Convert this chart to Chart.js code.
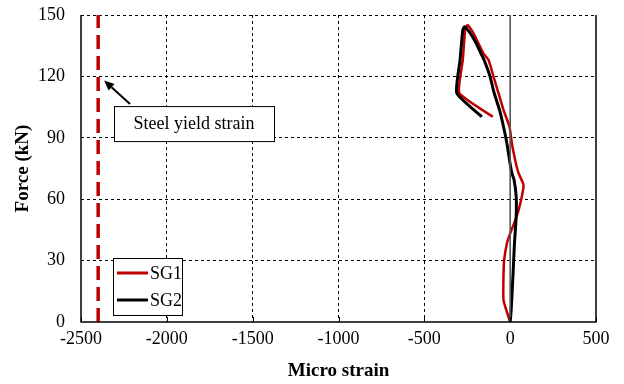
<!DOCTYPE html>
<html>
<head>
<meta charset="utf-8">
<script src="https://cdn.jsdelivr.net/npm/chart.js@4/dist/chart.umd.min.js"></script>
<style>
  html, body { margin: 0; padding: 0; background: #fff; }
  #wrap { width: 624px; height: 384px; }
</style>
</head>
<body>
<div id="wrap"><canvas id="c" width="624" height="384"></canvas></div>
<script>
// Strain gauge readings: micro strain (x) against applied force in kN (y)
const sg1Strain = [0, -23, -39, -39, -35, -19, 0, 23, 49, 68, 78, 49, 29, 10, -4, -39, -68, -97, -126, -156, -185, -214, -249, -262, -276, -296, -101];
const sg1Force  = [0, 5.9, 10.8, 22.2, 30.3, 38.4, 43.3, 48.2, 54.7, 61.3, 67, 72.7, 79.2, 87.3, 95.5, 103.6, 111.8, 119.9, 128, 131.3, 136.2, 141.1, 145.1, 142.7, 128, 111.8, 100.3];

const sg2Strain = [0, 6, 16, 25, 35, 35, 23, 10, -4, -19, -39, -62, -93, -117, -152, -171, -198, -233, -266, -276, -292, -311, -165];
const sg2Force  = [0, 5.9, 22.2, 38.4, 51.5, 61.3, 69.4, 72.7, 79.2, 87.3, 95.5, 103.6, 111.8, 119.9, 128, 131.3, 136.2, 141.1, 144.3, 142.7, 128, 111.8, 100.3];

const yieldStrain = -2400;
const forceRange = [0, 150];
const strainTicks = [-2500, -2000, -1500, -1000, -500, 0, 500];
const forceTicks = [0, 30, 60, 90, 120, 150];
const seriesNames = ['SG1', 'SG2'];
const annotationText = 'Steel yield strain';

const FONT = "'Liberation Serif', 'Times New Roman', serif";
const RED = '#C00000';

function pts(xs, ys) { return xs.map((x, i) => ({ x: x, y: ys[i] })); }

// Frame, inner ticks on the strain axis, legend box and the yield annotation
const decorations = {
  id: 'decorations',
  afterDatasetsDraw(chart) {
    const { ctx, chartArea: a, scales: { x, y } } = chart;
    ctx.save();
    // solid frame on left, bottom and right
    ctx.strokeStyle = '#000';
    ctx.lineWidth = 1.5;
    ctx.beginPath();
    ctx.moveTo(a.left, a.top);
    ctx.lineTo(a.left, a.bottom);
    ctx.lineTo(a.right, a.bottom);
    ctx.lineTo(a.right, a.top);
    ctx.stroke();
    // inner tick marks on the strain axis
    ctx.lineWidth = 1;
    strainTicks.forEach(v => {
      const px = Math.round(x.getPixelForValue(v)) + 0.5;
      ctx.beginPath();
      ctx.moveTo(px, a.bottom);
      ctx.lineTo(px, a.bottom - 5);
      ctx.stroke();
    });

    // legend
    const lx = a.left + 32, ly = a.top + 243, lw = 69, lh = 57;
    ctx.fillStyle = '#fff';
    ctx.fillRect(lx, ly, lw, lh);
    ctx.strokeStyle = '#000';
    ctx.lineWidth = 1;
    ctx.strokeRect(lx + 0.5, ly + 0.5, lw, lh);
    ctx.font = '18px ' + FONT;
    ctx.textBaseline = 'middle';
    ctx.textAlign = 'left';
    seriesNames.forEach((name, i) => {
      const ds = chart.data.datasets.find(d => d.label === name);
      const yy = ly + 15 + i * 27;
      ctx.strokeStyle = ds.borderColor;
      ctx.lineWidth = 3;
      ctx.beginPath();
      ctx.moveTo(lx + 4, yy);
      ctx.lineTo(lx + 35, yy);
      ctx.stroke();
      ctx.fillStyle = '#000';
      ctx.fillText(name, lx + 37, yy + 1);
    });

    // annotation pointing at the yield line
    const tipX = x.getPixelForValue(yieldStrain) + 6;
    const tipY = y.getPixelForValue(118);
    const bx = a.left + 33, by = y.getPixelForValue(105.5), bw = 160, bh = 35;
    const sx = bx + 16, sy = by - 2;
    ctx.strokeStyle = '#000';
    ctx.fillStyle = '#000';
    ctx.lineWidth = 2;
    const ang = Math.atan2(tipY - sy, tipX - sx);
    const hl = 10, hw = 4.5;
    const baseX = tipX - hl * Math.cos(ang), baseY = tipY - hl * Math.sin(ang);
    ctx.beginPath();
    ctx.moveTo(sx, sy);
    ctx.lineTo(baseX, baseY);
    ctx.stroke();
    ctx.beginPath();
    ctx.moveTo(tipX, tipY);
    ctx.lineTo(baseX + hw * Math.sin(ang), baseY - hw * Math.cos(ang));
    ctx.lineTo(baseX - hw * Math.sin(ang), baseY + hw * Math.cos(ang));
    ctx.closePath();
    ctx.fill();
    ctx.fillStyle = '#fff';
    ctx.fillRect(bx, by, bw, bh);
    ctx.lineWidth = 1;
    ctx.strokeRect(bx + 0.5, by + 0.5, bw, bh);
    ctx.fillStyle = '#000';
    ctx.textAlign = 'center';
    ctx.fillText(annotationText, bx + bw / 2, by + bh / 2 + 1);
    ctx.restore();
  }
};

new Chart(document.getElementById('c'), {
  type: 'scatter',
  data: {
    datasets: [
      {
        label: 'zero',
        data: [{ x: 0, y: forceRange[0] }, { x: 0, y: forceRange[1] }],
        showLine: true, borderColor: '#555555', borderWidth: 1.6,
        pointRadius: 0
      },
      {
        label: 'yield',
        data: [{ x: yieldStrain, y: forceRange[0] }, { x: yieldStrain, y: forceRange[1] }],
        showLine: true, borderColor: RED, borderWidth: 3.5,
        borderDash: [14, 7], pointRadius: 0
      },
      {
        label: seriesNames[1],
        data: pts(sg2Strain, sg2Force),
        showLine: true, borderColor: '#000', borderWidth: 3,
        pointRadius: 0, tension: 0.15
      },
      {
        label: seriesNames[0],
        data: pts(sg1Strain, sg1Force),
        showLine: true, borderColor: RED, borderWidth: 2.5,
        pointRadius: 0, tension: 0.15
      }
    ]
  },
  options: {
    responsive: false,
    animation: false,
    events: [],
    layout: { padding: { left: 0, right: 28, top: 15, bottom: 0 } },
    plugins: { legend: { display: false }, tooltip: { enabled: false } },
    scales: {
      x: {
        type: 'linear',
        min: strainTicks[0], max: strainTicks[strainTicks.length - 1],
        afterBuildTicks: s => { s.ticks = strainTicks.map(v => ({ value: v })); },
        afterFit: s => { s.height = 62; s.paddingLeft = 0; s.paddingRight = 0; },
        ticks: { color: '#000', font: { family: FONT, size: 18 }, padding: 6, callback: v => String(v) },
        grid: {
          drawTicks: false,
          color: c => (c.tick && (c.tick.value === 0 || c.tick.value === strainTicks[0] || c.tick.value === strainTicks[strainTicks.length - 1])) ? 'rgba(0,0,0,0)' : '#000',
          lineWidth: 1
        },
        border: { display: false, dash: [3, 3] },
        title: {
          display: true, text: 'Micro strain', color: '#000',
          font: { family: FONT, size: 19, weight: 'bold' },
          padding: { top: 0, bottom: 2 }
        }
      },
      y: {
        type: 'linear',
        min: forceRange[0], max: forceRange[1],
        afterBuildTicks: s => { s.ticks = forceTicks.map(v => ({ value: v })); },
        afterFit: s => { s.width = 81; s.paddingTop = 0; s.paddingBottom = 0; },
        ticks: { color: '#000', font: { family: FONT, size: 18 }, padding: 16, callback: v => String(v) },
        grid: {
          drawTicks: false,
          color: c => (c.tick && c.tick.value === 0) ? 'rgba(0,0,0,0)' : '#000',
          lineWidth: 1
        },
        border: { display: false, dash: [3, 3] },
        title: {
          display: true, text: 'Force (kN)', color: '#000',
          font: { family: FONT, size: 19, weight: 'bold' },
          padding: { top: 12, bottom: 0 }
        }
      }
    }
  },
  plugins: [decorations]
});
</script>
</body>
</html>
